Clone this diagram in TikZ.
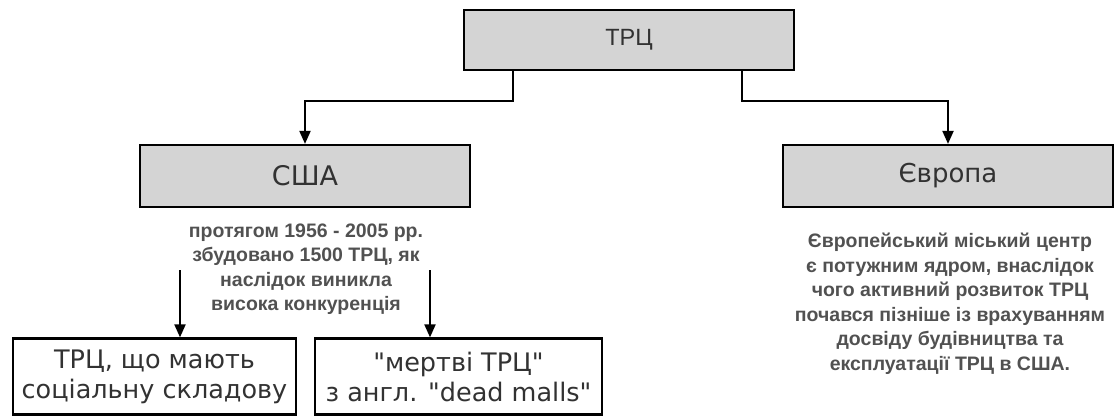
\documentclass[tikz,border=0pt]{standalone}
\usepackage{fontspec}
\setmainfont{Liberation Sans}
\newfontfamily\gothic{DejaVu Sans}
\usetikzlibrary{arrows.meta,positioning}
\definecolor{boxgray}{RGB}{212,212,212}
\definecolor{txtgray}{RGB}{50,50,50}

\begin{document}
\begin{tikzpicture}[x=1pt,y=-1pt,
  greybox/.style={draw=black, line width=2.2pt, fill=boxgray, minimum width=330pt,
    minimum height=62pt, inner sep=0pt, text=txtgray},
  whitebox/.style={draw=black, line width=2.2pt, fill=white, minimum height=76pt,
    inner sep=0pt, align=center, text=txtgray, font=\gothic\fontsize{25.5}{30}\selectfont},
  note/.style={align=center, text=txtgray!85!white, font=\bfseries\fontsize{19.5}{24.5}\selectfont},
  arr/.style={line width=2pt, -{Triangle[length=13pt,width=11pt]}}]
  \useasboundingbox (0,0) rectangle (1120,417);

  % top level
  \node[greybox, minimum height=60pt, font=\fontsize{23.5}{26}\selectfont] (trc) at (629,40) {ТРЦ};

  % second level
  \node[greybox, font=\gothic\fontsize{27}{30}\selectfont] (usa) at (305,176) {США};
  \node[greybox, font=\gothic\fontsize{26}{30}\selectfont] (eur) at (948,176) {Європа};

  \draw[arr] ([xshift=-116pt]trc.south) -- ++(0,30) -| (usa.north);
  \draw[arr] ([xshift=113pt]trc.south) -- ++(0,30) -| (eur.north);

  % notes
  \node[note] (usanote) at (306,269) {протягом 1956 - 2005 рр.\\збудовано 1500 ТРЦ, як\\наслідок виникла\\висока конкуренція};
  \node[note] (eurnote) at (950,304) {Європейський міський центр\\є потужним ядром, внаслідок\\чого активний розвиток ТРЦ\\почався пізніше із врахуванням\\досвіду будівництва та\\експлуатації ТРЦ в США.};

  % bottom level
  \node[whitebox, minimum width=283pt] (soc) at (154.5,376.5) {ТРЦ, що мають\\соціальну складову};
  \node[whitebox, minimum width=287pt] (dead) at (458.5,376.5) {"мертві ТРЦ"\\з англ. "dead malls"};

  \coordinate (s1) at (180,270);
  \coordinate (s2) at (430,270);
  \draw[arr] (s1) -- (s1 |- soc.north);
  \draw[arr] (s2) -- (s2 |- dead.north);
\end{tikzpicture}
\end{document}
